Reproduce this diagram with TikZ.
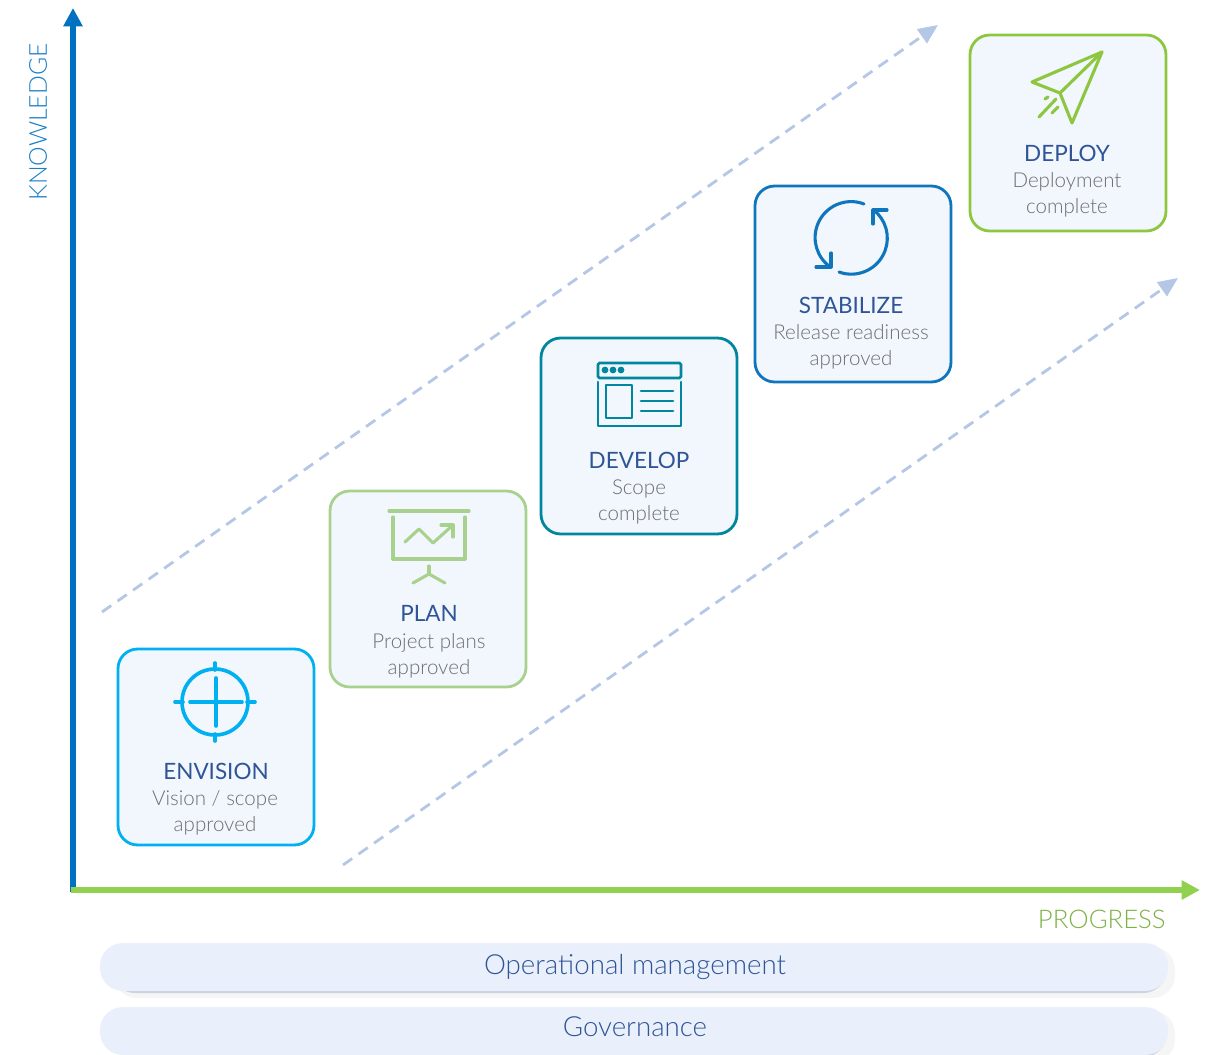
\documentclass[tikz,border=0pt]{standalone}
\usepackage{fontspec}
\setmainfont{Lato Light}
\newfontfamily\titlefont{Lato}
\usetikzlibrary{arrows.meta}
\definecolor{envisioncol}{HTML}{00B0F0}
\definecolor{plancol}{HTML}{A9D18E}
\definecolor{developcol}{HTML}{00869E}
\definecolor{stabilizecol}{HTML}{0F75BD}
\definecolor{deploycol}{HTML}{8DC63F}
\definecolor{titlecol}{HTML}{2F5597}
\definecolor{subcol}{HTML}{6E6E6E}
\definecolor{trendcol}{HTML}{B4C7E7}
\definecolor{knowcol}{HTML}{0070C0}
\definecolor{progcol}{HTML}{92D050}
\definecolor{barcol}{HTML}{EAF0FB}
\definecolor{boxcol}{HTML}{F2F6FD}
\tikzstyle{stepbox}=[rectangle,rounded corners=14pt,fill=boxcol,line width=2pt,minimum size=139.4pt,inner sep=0pt]
\tikzstyle{steptitle}=[titlecol,font=\titlefont\fontsize{16}{20}\selectfont,inner sep=0pt]
\tikzstyle{stepsub}=[subcol,font=\fontsize{14.6}{18.5}\selectfont,align=center,inner sep=0pt]
\tikzstyle{icon}=[line width=2.2pt,line cap=round,line join=round]
\tikzstyle{trend}=[trendcol,line width=2pt,dash pattern=on 8pt off 5.5pt,-{Triangle[length=14pt,width=12pt]}]
\tikzstyle{axis}=[line width=3.6pt,-{Triangle[length=13pt,width=13pt]}]
\tikzstyle{barbox}=[rectangle,rounded corners=16pt,fill=barcol,minimum width=759.6pt,minimum height=34pt,inner sep=0pt]
\tikzstyle{bartext}=[text=titlecol,font=\fontsize{19.7}{22}\selectfont,inner sep=0pt]

\begin{document}
\begin{tikzpicture}[x=0.7113pt,y=-0.7113pt]
  \useasboundingbox (0,0) rectangle (1207,1055);

  % trend lines
  \coordinate (d1) at (102,612);
  \coordinate (d2) at (938,25);
  \coordinate (d3) at (343,865);
  \coordinate (d4) at (1178,278);
  \draw[trend] (d1) -- (d2);
  \draw[trend] (d3) -- (d4);

  % axes
  \coordinate (o1) at (73,892);
  \coordinate (o2) at (71,890);
  \coordinate (a1) at (73,8);
  \coordinate (a2) at (1200,890);
  \draw[axis,knowcol] (o1) -- (a1);
  \draw[axis,progcol] (o2) -- (a2);
  \node[knowcol!90!white,rotate=90,font=\fontsize{17.6}{22}\selectfont,inner sep=0pt] (know) at (38,122) {KNOWLEDGE};
  \node[progcol!85!black,font=\fontsize{18.3}{22}\selectfont,anchor=east,inner sep=0pt] (prog) at (1166,919) {PROGRESS};

  % steps
  \node[stepbox,draw=envisioncol]  (n1) at (216,747) {};
  \node[stepbox,draw=plancol]      (n2) at (428,589) {};
  \node[stepbox,draw=developcol]   (n3) at (639,436) {};
  \node[stepbox,draw=stabilizecol] (n4) at (853,284) {};
  \node[stepbox,draw=deploycol]    (n5) at (1068,133) {};

  \node[steptitle] (t1) at (216,771) {ENVISION};
  \node[steptitle] (t2) at (429,613) {PLAN};
  \node[steptitle] (t3) at (639,460) {DEVELOP};
  \node[steptitle] (t4) at (851,305) {STABILIZE};
  \node[steptitle] (t5) at (1067,153) {DEPLOY};

  \node[stepsub] (s1) at (215,813) {Vision / scope\\approved};
  \node[stepsub] (s2) at (429,656) {Project plans\\approved};
  \node[stepsub] (s3) at (639,502) {Scope\\complete};
  \node[stepsub] (s4) at (851,347) {Release readiness\\approved};
  \node[stepsub] (s5) at (1067,195) {Deployment\\complete};

  % envision icon
  \draw[icon,envisioncol,line width=2.6pt] (215,702) circle (33);
  \foreach \xa/\ya/\xb/\yb in {175/702/183/702,247/702/255/702,215/663/215/670,215/734/215/741,
                190/702/242/702,216/678/216/726}
      \draw[icon,envisioncol,line width=2.6pt] (\xa,\ya) -- (\xb,\yb);

  % plan icon
  \draw[icon,plancol] (389,511) -- (469,511);
  \draw[icon,plancol] (393,517) -- (393,559) -- (465,559) -- (465,517);
  \draw[icon,plancol] (405,542) -- (419,529) -- (433,543) -- (453,525);
  \draw[icon,plancol] (441,525) -- (453,525) -- (453,537);
  \draw[icon,plancol] (429,566) -- (429,574);
  \draw[icon,plancol] (413,583) -- (429,574) -- (445,583);

  % develop icon
  \draw[icon,developcol,line width=1.9pt,rounded corners=1pt] (598,363) rectangle (681,378);
  \draw[icon,developcol,line width=1.9pt] (598,382) -- (598,426) -- (681,426) -- (681,382);
  \draw[icon,developcol,line width=1.9pt] (606,385) rectangle (632,418);
  \foreach \y in {391,401,411}
      \draw[icon,developcol,line width=1.9pt] (641,\y) -- (673,\y);
  \foreach \x in {605,613,621}
      \fill[developcol] (\x,370) circle (3.4);

  % stabilize icon
  \draw[icon,stabilizecol] (864,204) arc[start angle=-69,end angle=-235,radius=36];
  \draw[icon,stabilizecol] (816,267) -- (831,267) -- (831,253);
  \draw[icon,stabilizecol] (839,272) arc[start angle=110,end angle=-52,radius=36];
  \draw[icon,stabilizecol] (887,210) -- (873,210) -- (873,224);

  % deploy icon
  \draw[icon,deploycol] (1032,82) -- (1102,52) -- (1072,123) -- (1060,93) -- cycle;
  \draw[icon,deploycol] (1060,93) -- (1102,52);
  \draw[icon,deploycol] (1039,117) -- (1056,99);
  \draw[icon,deploycol] (1045,99) -- (1048,97);
  \draw[icon,deploycol] (1052,113) -- (1058,107);

  % bars
  \foreach \yb in {947,1011}{
      \fill[rounded corners=16pt,fill=black!4] (114,\yb) rectangle (1175,\yb+51);
      \fill[rounded corners=16pt,fill=titlecol!25] (112,\yb) rectangle (1166,\yb+46);
  }
  \node[barbox] (b1) at (634,967) {};
  \node[barbox] (b2) at (634,1031) {};
  \node[bartext] (g1) at (635,967) {Operational management};
  \node[bartext] (g2) at (635,1027) {Governance};
\end{tikzpicture}
\end{document}
